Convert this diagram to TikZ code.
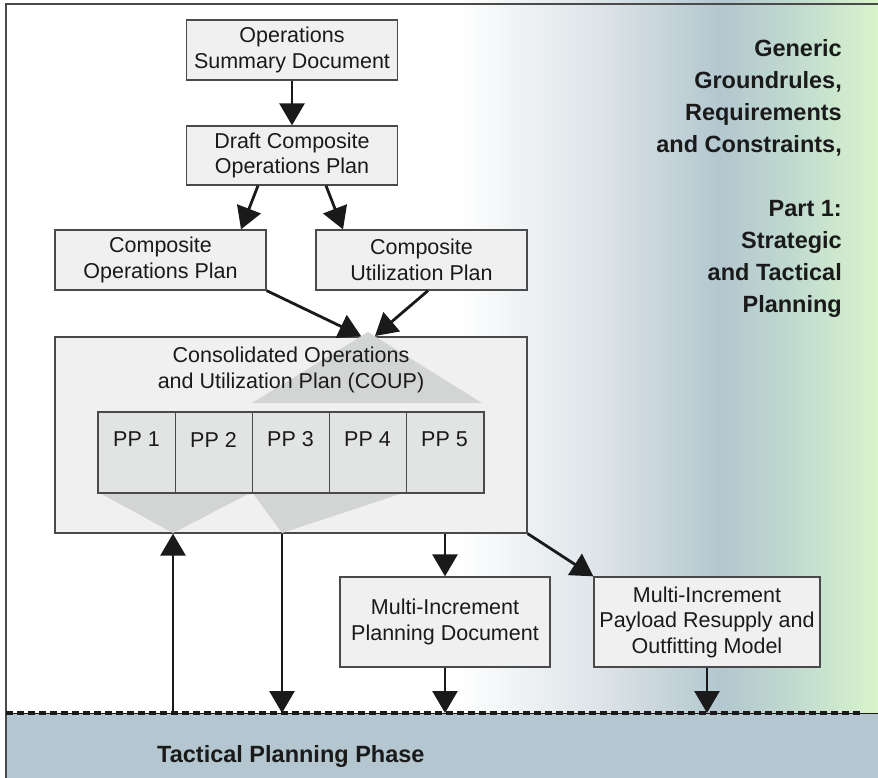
\documentclass[tikz,border=0pt]{standalone}
\usepackage{fontspec}
\setmainfont{Liberation Sans}
\usetikzlibrary{arrows.meta,calc}

\definecolor{boxfill}{HTML}{F0F0F0}
\definecolor{boxline}{HTML}{4A4A4A}
\definecolor{cellfill}{HTML}{E2E4E4}
\definecolor{wedge}{HTML}{D3D5D5}
\definecolor{band}{HTML}{B4C7D0}
\definecolor{gA}{HTML}{EDF1F3}
\definecolor{gB}{HTML}{DDE4E8}
\definecolor{gC}{HTML}{B3C7CF}
\definecolor{gD}{HTML}{C2DCCF}
\definecolor{gE}{HTML}{D8F4CB}
\definecolor{ink}{HTML}{1A1A1A}

\newcommand\boxfont{\fontsize{21.5}{25.5}\selectfont}
\newcommand\sidefont{\fontsize{23.5}{32}\selectfont\bfseries}

\begin{document}
\begin{tikzpicture}[x=1pt,y=-1pt,
  planbox/.style={draw=boxline, line width=1.3pt, fill=boxfill, align=center,
    font=\boxfont, text=ink, inner sep=0pt},
  ppcell/.style={draw=boxline, line width=1pt, fill=cellfill,
    minimum width=77pt, minimum height=80pt, inner sep=0pt},
  pplabel/.style={font=\boxfont, text=ink, inner sep=0pt},
  flow/.style={-{Triangle[length=22pt,width=25pt]}, line width=2.8pt, draw=ink},
  sidetext/.style={font=\sidefont, text=ink, inner sep=0pt}]

\useasboundingbox (0,0) rectangle (878,778);
\fill[white] (0,0) rectangle (878,778);

% colour wash behind the right-hand side
\shade[left color=white, right color=gA] (455,0) rectangle (528.5,713);
\shade[left color=gA, right color=gB] (528,0) rectangle (600.5,713);
\shade[left color=gB, right color=gC] (600,0) rectangle (720.5,713);
\shade[left color=gC, right color=gD] (720,0) rectangle (800.5,713);
\shade[left color=gD, right color=gE] (800,0) rectangle (878,713);

% tactical phase band
\fill[band] (6,713) rectangle (878,778);

% frame
\draw[boxline, line width=1.6pt] (6,778) -- (6,4) -- (878,4);

% upper chain of documents
\node[planbox, minimum width=211pt, minimum height=60pt] (osd) at (292,50)
  {Operations\\Summary Document};
\node[planbox, minimum width=211pt, minimum height=59pt] (dcop) at (292,155.5)
  {Draft Composite\\Operations Plan};
\node[planbox, minimum width=211pt, minimum height=60pt] (cop) at (160.5,260)
  {Composite\\Operations Plan};
\node[planbox, minimum width=211pt, minimum height=60pt] (cup) at (421.5,260)
  {Composite\\Utilization Plan};

% consolidated plan
\node[planbox, minimum width=472pt, minimum height=196pt] (coup) at (291,435) {};
\fill[wedge] (368,332) -- (482,403) -- (252,403) -- cycle;
\fill[wedge] (98,492) -- (252,492) -- (173,533) -- cycle;
\fill[wedge] (252,492) -- (406,492) -- (282,533) -- cycle;
\node[font=\boxfont, text=ink, align=center, inner sep=0pt] (coupname) at (291,370)
  {Consolidated Operations\\and Utilization Plan (COUP)};

\foreach \i in {1,...,5} {
  \node[ppcell] (pp\i) at ({98+77*(\i-0.5)},452) {};
  \node[pplabel] at ($(pp\i.north)+(0,28)$) {PP \i};
}
\draw[boxline, line width=2pt] (pp1.north west) rectangle (pp5.south east);

% downstream documents
\node[planbox, minimum width=210pt, minimum height=90pt] (mipd) at (445,622)
  {Multi-Increment\\Planning Document};
\node[planbox, minimum width=226pt, minimum height=90pt] (mprom) at (707,622)
  {Multi-Increment\\Payload Resupply and\\Outfitting Model};

% phase boundary
\coordinate (upfoot) at (173,713);
\coordinate (downfoot) at (282,713);
\draw[ink, line width=1pt] (6,713) -- (878,713);
\draw[ink, line width=3.3pt, dash pattern=on 7pt off 4pt] (6,713) -- (862,713);

% connectors
\coordinate (inL) at (361,336);
\coordinate (inR) at (375,336);
\draw[flow] (osd.south) -- (dcop.north);
\draw[flow] ($(dcop.south)+(-34,0)$) -- ($(cop.north)+(80.5,0)$);
\draw[flow] ($(dcop.south)+(34,0)$) -- ($(cup.north)+(-78.5,0)$);
\draw[flow] (cop.south east) -- (inL);
\draw[flow] ($(cup.south)+(6.5,0)$) -- (inR);
\draw[flow] (upfoot) -- (coup.south -| upfoot);
\draw[flow] (coup.south -| downfoot) -- (downfoot);
\draw[flow] (coup.south -| mipd.north) -- (mipd.north);
\draw[flow] (coup.south east) -- (mprom.north west);
\draw[flow] (mipd.south) -- (mipd.south |- upfoot);
\draw[flow] (mprom.south) -- (mprom.south |- upfoot);

% captions
\node[sidetext, align=right, anchor=north east] (scope) at (842,39.5)
  {Generic\\Groundrules,\\Requirements\\and Constraints,\\[32pt]Part 1:\\Strategic\\and Tactical\\Planning};
\node[sidetext, anchor=base west] (phase) at (157,762) {Tactical Planning Phase};
\end{tikzpicture}
\end{document}
